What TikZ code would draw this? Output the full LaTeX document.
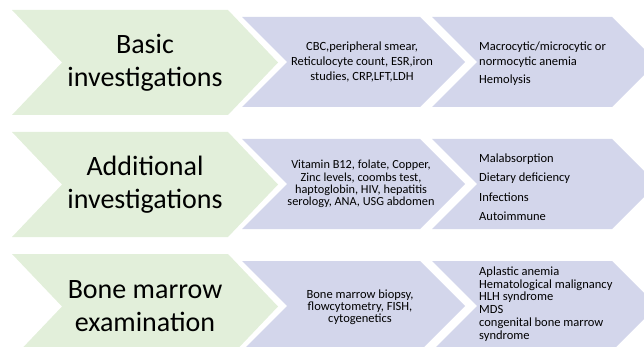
\documentclass[tikz,border=0pt]{standalone}
\usepackage{fontspec}
\setmainfont{Carlito}
\usepackage{xcolor}
\definecolor{boxGreen}{HTML}{E2EFDA}
\definecolor{boxBlue}{HTML}{D3D6EB}

\tikzset{
  stage/.style={align=center, inner sep=0pt, font=\fontsize{28}{33}\selectfont},
  detail/.style={align=center, inner sep=0pt},
  outcome/.style={align=left, anchor=west, inner sep=0pt}
}

\begin{document}
\begin{tikzpicture}[x=1pt, y=-1pt]
  \clip (0,0) rectangle (644,347);
  % first row
  \fill[boxGreen] (12,10) -- (228,10) -- (278,62.5) -- (228,115) -- (12,115) -- (62,62.5) -- cycle;
  \fill[boxBlue] (242,17) -- (420,17) -- (465,62) -- (420,107) -- (242,107) -- (287,62) -- cycle;
  \fill[boxBlue] (432,17) -- (612,17) -- (657,62) -- (612,107) -- (432,107) -- (477,62) -- cycle;
  \node[stage] (basic) at (145,62.5) {Basic\\investigations};
  \node[detail, font=\fontsize{12.5}{15}\selectfont] (basicTests) at (362,62) {CBC,peripheral smear,\\Reticulocyte count, ESR,iron\\studies, CRP,LFT,LDH};
  \node[outcome, font=\fontsize{12.5}{15}\selectfont] (basicFind) at (479,63.5) {Macrocytic/microcytic or\\normocytic anemia\\[3pt]Hemolysis};
  % second row
  \fill[boxGreen] (12,132) -- (228,132) -- (278,184.5) -- (228,237) -- (12,237) -- (62,184.5) -- cycle;
  \fill[boxBlue] (242,139) -- (420,139) -- (465,184) -- (420,229) -- (242,229) -- (287,184) -- cycle;
  \fill[boxBlue] (432,139) -- (612,139) -- (657,184) -- (612,229) -- (432,229) -- (477,184) -- cycle;
  \node[stage] (additional) at (145,184.5) {Additional\\investigations};
  \node[detail, font=\fontsize{12.3}{12.4}\selectfont] (additionalTests) at (361,184) {Vitamin B12, folate, Copper,\\Zinc levels, coombs test,\\haptoglobin, HIV, hepatitis\\serology, ANA, USG abdomen};
  \node[outcome, font=\fontsize{12.5}{19.5}\selectfont] (additionalFind) at (479,187) {Malabsorption\\Dietary deficiency\\Infections\\Autoimmune};
  % third row
  \fill[boxGreen] (12,254) -- (228,254) -- (278,306.5) -- (228,359) -- (12,359) -- (62,306.5) -- cycle;
  \fill[boxBlue] (242,261) -- (420,261) -- (465,306) -- (420,351) -- (242,351) -- (287,306) -- cycle;
  \fill[boxBlue] (432,261) -- (612,261) -- (657,306) -- (612,351) -- (432,351) -- (477,306) -- cycle;
  \node[stage] (marrow) at (145,306.5) {Bone marrow\\examination};
  \node[detail, font=\fontsize{12.5}{11.8}\selectfont] (marrowTests) at (360,307) {Bone marrow biopsy,\\flowcytometry, FISH,\\cytogenetics};
  \node[outcome, font=\fontsize{12.5}{12.7}\selectfont] (marrowFind) at (479,304) {Aplastic anemia\\Hematological malignancy\\HLH syndrome\\MDS\\congenital bone marrow\\syndrome};
\end{tikzpicture}
\end{document}
